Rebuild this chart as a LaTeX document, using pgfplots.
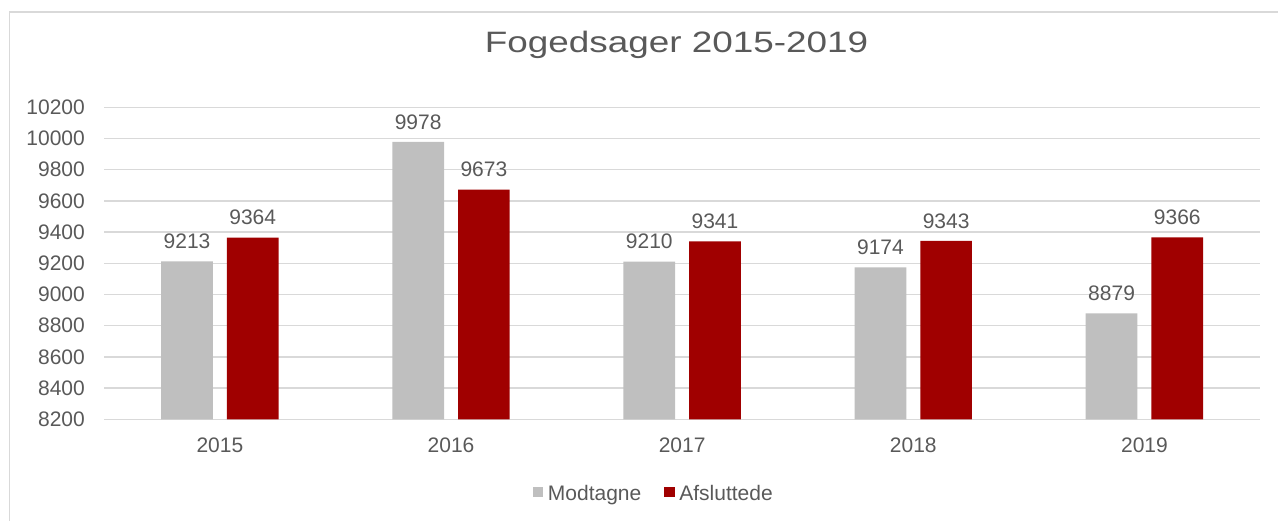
\documentclass[border=0pt]{standalone}
\usepackage{fontspec}
\setmainfont{Liberation Sans}
\usepackage{graphicx}
\usepackage{pgfplots}
\pgfplotsset{compat=1.18}
\definecolor{txt}{HTML}{595959}
\definecolor{gridc}{HTML}{D9D9D9}
\definecolor{bgray}{HTML}{BFBFBF}
\definecolor{bred}{HTML}{A00000}
\pgfplotsset{sq legend/.style={legend image code/.code={\fill[##1] (0pt,-3.9pt) rectangle (10.3pt,6.4pt); \path (15pt,0pt);}}}
\begin{document}
\begin{tikzpicture}
\useasboundingbox (0,0) rectangle (1278pt,521pt);
\draw[gridc, line width=1.5pt] (9.5pt,-2pt) -- (9.5pt,509.2pt) -- (1280pt,509.2pt);
\node[font=\fontsize{29.5}{34}\selectfont, text=txt, anchor=base] at (676.5pt,468.7pt) {\scalebox{1.25}[1]{Fogedsager 2015-2019}};
\begin{axis}[
  at={(104.3pt,101.7pt)}, anchor=south west,
  scale only axis, width=1155.7pt, height=312pt,
  ybar=14pt, bar width=51.7pt,
  ymin=8200, ymax=10200, ytick={8200,8400,...,10200},
  scaled y ticks=false,
  xmin=-0.5, xmax=4.5, xtick={0,1,2,3,4}, xticklabels={2015,2016,2017,2018,2019},
  axis line style={draw=none},
  major tick length=0pt,
  ymajorgrids, major grid style={gridc, line width=1.5pt},
  tick label style={font=\fontsize{21}{25}\selectfont, text=txt},
  yticklabel style={inner sep=0pt, anchor=east, xshift=-19.3pt, /pgf/number format/fixed, /pgf/number format/precision=0},
  xticklabel style={inner sep=0pt, anchor=north, yshift=-18pt},
  /pgf/number format/1000 sep={},
  /pgf/number format/assume math mode=true,
  nodes near coords,
  every node near coord/.append style={font=\fontsize{21}{25}\selectfont, text=txt, inner sep=0pt, anchor=south, yshift=12.5pt},
  legend columns=-1,
  legend style={at={(0.3709,-0.2372)}, anchor=west, draw=none, fill=none, inner sep=0pt, outer sep=0pt,
    font=\fontsize{21}{25}\selectfont, text=txt, column sep=0pt, nodes={inner sep=0pt}},
  legend cell align=left,
  /tikz/every even column/.append style={column sep=23pt},
]
\addplot[fill=bgray, draw=none, sq legend] coordinates {(0,9213) (1,9978) (2,9210) (3,9174) (4,8879)};
\addplot[fill=bred, draw=none, sq legend] coordinates {(0,9364) (1,9673) (2,9341) (3,9343) (4,9366)};
\legend{Modtagne, Afsluttede}
\end{axis}
\end{tikzpicture}
\end{document}
